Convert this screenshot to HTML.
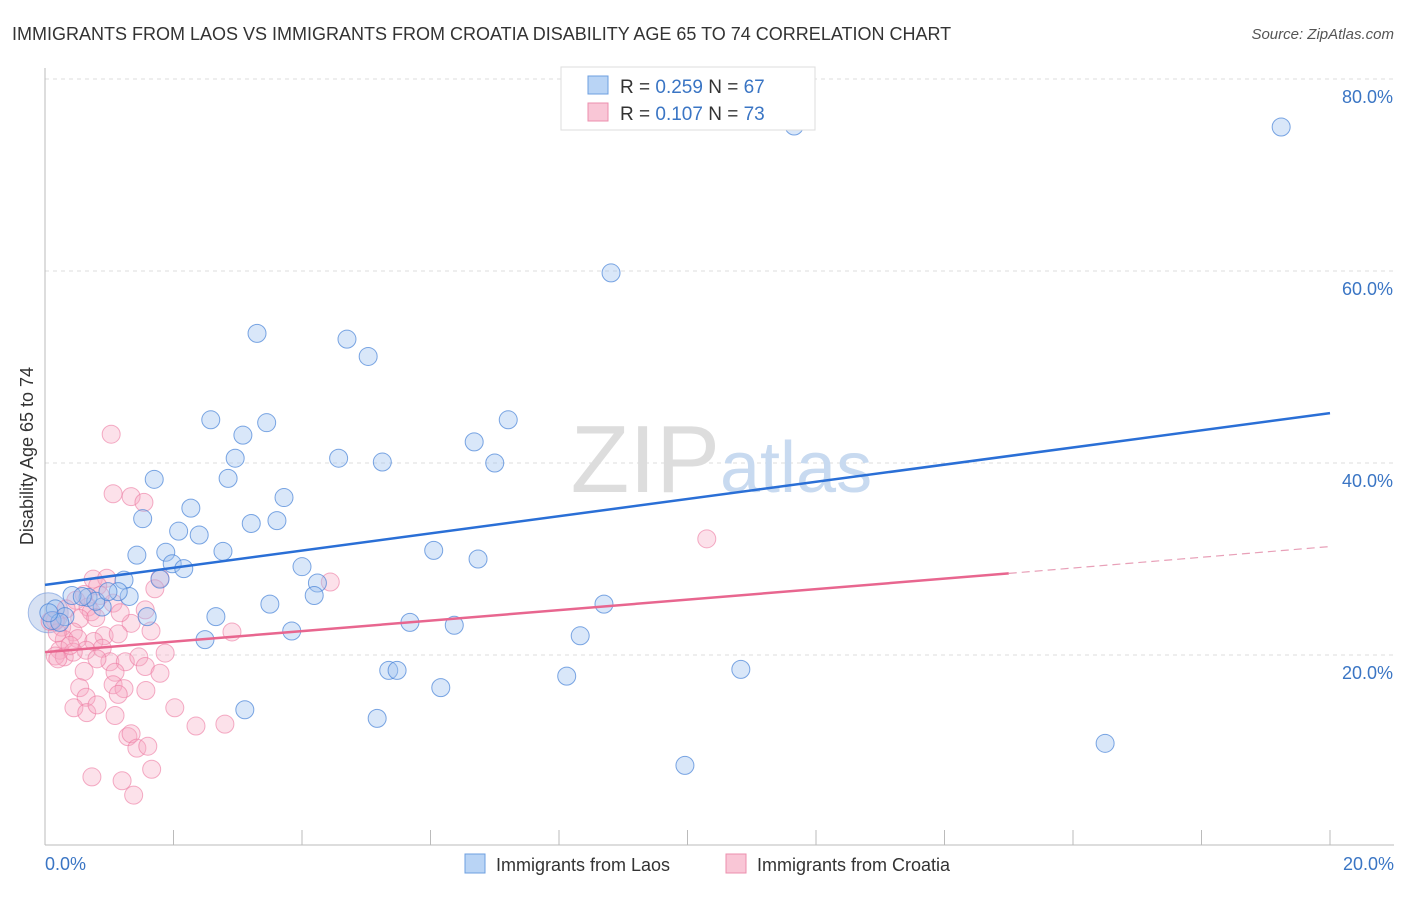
<!DOCTYPE html>
<html><head><meta charset="utf-8"><style>
body{margin:0;background:#fff;font-family:"Liberation Sans",sans-serif}
svg text{font-family:"Liberation Sans",sans-serif}
</style></head><body>
<svg id="chart" width="1406" height="892">
<text x="12" y="40" font-size="18" fill="#333">IMMIGRANTS FROM LAOS VS IMMIGRANTS FROM CROATIA DISABILITY AGE 65 TO 74 CORRELATION CHART</text>
<text x="1394" y="39" font-size="15" fill="#555" text-anchor="end" font-style="italic">Source: ZipAtlas.com</text>
<g id="grid"></g>
<text x="720" y="492" font-size="96" fill="#ddd" text-anchor="end" font-family="Liberation Serif">ZIP</text>
<text x="720" y="492" font-size="72" fill="#c8daf0">atlas</text>
<line x1="45" y1="68" x2="45" y2="845" stroke="#bbb"/>
<line x1="45" y1="845" x2="1394" y2="845" stroke="#bbb"/>
<g id="xticks"></g>
<g id="ylabels"></g>
<text x="45" y="870" font-size="18" fill="#3a75c4">0.0%</text>
<text x="1394" y="870" font-size="18" fill="#3a75c4" text-anchor="end">20.0%</text>
<text transform="translate(33,456) rotate(-90)" font-size="18" fill="#333" text-anchor="middle">Disability Age 65 to 74</text>
<g id="points"></g>
<g id="lines"></g>
<g>
<rect x="561" y="67" width="254" height="63" fill="#fff" stroke="#ddd"/>
<rect x="588" y="76" width="20" height="18" fill="#b9d4f5" stroke="#6d9fe0"/>
<rect x="588" y="103" width="20" height="18" fill="#f9c6d6" stroke="#ec8fae"/>
<text x="620" y="93" font-size="19" fill="#333">R = <tspan fill="#3a75c4">0.259</tspan>   N = <tspan fill="#3a75c4">67</tspan></text>
<text x="620" y="120" font-size="19" fill="#333">R = <tspan fill="#3a75c4">0.107</tspan>   N = <tspan fill="#3a75c4">73</tspan></text>
</g>
<g>
<rect x="465" y="854" width="20" height="19" fill="#b9d4f5" stroke="#6d9fe0"/>
<text x="496" y="871" font-size="18" fill="#333">Immigrants from Laos</text>
<rect x="726" y="854" width="20" height="19" fill="#f9c6d6" stroke="#ec8fae"/>
<text x="757" y="871" font-size="18" fill="#333">Immigrants from Croatia</text>
</g>
</svg>
<script>
const yTicks=[20,40,60,80];
const yTickLabels=["20.0%","40.0%","60.0%","80.0%"];
const xTicks=[0,2,4,6,8,10,12,14,16,18,20];
const laosX=[11.66,19.24,8.81,3.30,4.70,5.03,2.58,3.45,3.08,7.21,6.68,2.96,4.57,5.25,7.00,1.70,2.85,3.72,2.27,1.52,3.21,3.61,2.08,2.40,6.05,1.43,1.88,2.77,6.74,1.98,2.16,4.00,1.79,1.23,4.24,4.19,1.31,1.14,3.50,8.70,0.89,0.67,0.42,0.79,1.59,2.66,5.68,6.37,3.84,2.49,8.33,0.16,0.31,0.11,5.35,5.48,10.83,8.12,6.16,3.11,5.17,16.50,9.96,0.58,0.98,0.23,0.06];
const laosY=[75.1,75.0,59.8,53.5,52.9,51.1,44.5,44.2,42.9,44.5,42.2,40.5,40.5,40.1,40.0,38.3,38.4,36.4,35.3,34.2,33.7,34.0,32.9,32.5,30.9,30.4,30.7,30.8,30.0,29.5,29.0,29.2,27.9,27.8,27.5,26.2,26.1,26.6,25.3,25.3,25.0,26.0,26.2,25.6,24.0,24.0,23.4,23.1,22.5,21.6,22.0,24.8,24.0,23.6,18.4,18.4,18.5,17.8,16.6,14.3,13.4,10.8,8.5,26.1,26.6,23.4,24.4];
const croX=[1.03,1.06,1.34,1.54,10.30,1.79,4.44,0.75,0.96,0.82,0.61,0.48,0.67,0.33,0.72,0.54,1.06,0.79,1.34,0.26,0.44,0.92,1.14,1.65,0.30,0.51,0.76,0.89,0.64,0.23,0.16,0.30,0.44,0.16,1.01,1.25,1.46,1.87,2.91,0.809,0.61,1.09,1.56,1.79,0.54,1.06,1.23,1.14,1.57,0.64,0.45,0.65,0.81,1.09,2.02,2.35,2.80,1.29,1.34,1.43,1.60,1.66,0.73,1.20,1.38,0.19,0.39,0.08,0.20,0.86,1.17,1.56,1.71];
const croY=[43.0,36.8,36.5,35.9,32.1,28.0,27.6,27.9,28.0,27.2,26.3,25.7,25.0,24.8,24.5,23.8,25.4,23.9,23.3,22.9,22.4,22.0,22.2,22.5,21.6,21.7,21.4,20.7,20.5,20.5,19.9,19.8,20.3,23.6,19.3,19.3,19.8,20.2,22.4,19.6,18.3,18.2,18.8,18.1,16.6,16.9,16.5,15.9,16.3,15.6,14.5,14.0,14.8,13.7,14.5,12.6,12.8,11.5,11.8,10.3,10.5,8.1,7.3,6.9,5.4,22.3,21.0,23.5,19.6,26.2,24.4,24.7,26.9];
const laosLine=[27.3,45.2];
const croLine=[20.3,28.5,31.3];
const xMax=20;
const X=v=>45+v/xMax*1285, Y=v=>847-v*9.6;
const NS="http://www.w3.org/2000/svg";
function mk(tag,parent,attrs){const e=document.createElementNS(NS,tag);for(const k in attrs)e.setAttribute(k,attrs[k]);parent.appendChild(e);return e;}
const grid=document.getElementById('grid'),yl=document.getElementById('ylabels'),xt=document.getElementById('xticks');
yTicks.forEach((t,i)=>{
 const l=mk('line',grid,{x1:45,x2:1394,y1:Y(t),y2:Y(t),stroke:'#ddd','stroke-dasharray':'4,4'});
 
 
 const tx=mk('text',yl,{x:1393,y:Y(t)+24,'font-size':18,fill:'#3a75c4','text-anchor':'end'});tx.textContent=yTickLabels[i];
 
 
});
xTicks.forEach(t=>{
 const l=mk('line',xt,{x1:X(t),x2:X(t),y1:830,y2:845,stroke:'#bbb'});
 
 
});
const pts=document.getElementById('points');
const big=mk('circle',pts,{cx:X(0.05),cy:Y(24.4),r:20,fill:'rgba(140,170,220,0.35)',stroke:'rgba(110,150,220,0.6)'});


croX.forEach((x,i)=>{
 const c=mk('circle',pts,{cx:X(x),cy:Y(croY[i]),r:9,fill:'rgba(246,168,195,0.35)',stroke:'rgba(236,120,160,0.6)'});
 
 
});
laosX.forEach((x,i)=>{
 const c=mk('circle',pts,{cx:X(x),cy:Y(laosY[i]),r:9,fill:'rgba(160,195,240,0.4)',stroke:'rgba(70,130,215,0.7)'});
 
 
});
const ln=document.getElementById('lines');
const bl=mk('line',ln,{x1:X(0),y1:Y(laosLine[0]),x2:X(20),y2:Y(laosLine[1]),stroke:'#2a6fd6','stroke-width':2.5});


const pl=mk('line',ln,{x1:X(0),y1:Y(croLine[0]),x2:X(15),y2:Y(croLine[1]),stroke:'#e8668f','stroke-width':2.5});


const pd=mk('line',ln,{x1:X(15),y1:Y(croLine[1]),x2:X(20),y2:Y(croLine[2]),stroke:'#e8a0b8','stroke-width':1.2,'stroke-dasharray':'8,5'});


</script>
</body></html>
